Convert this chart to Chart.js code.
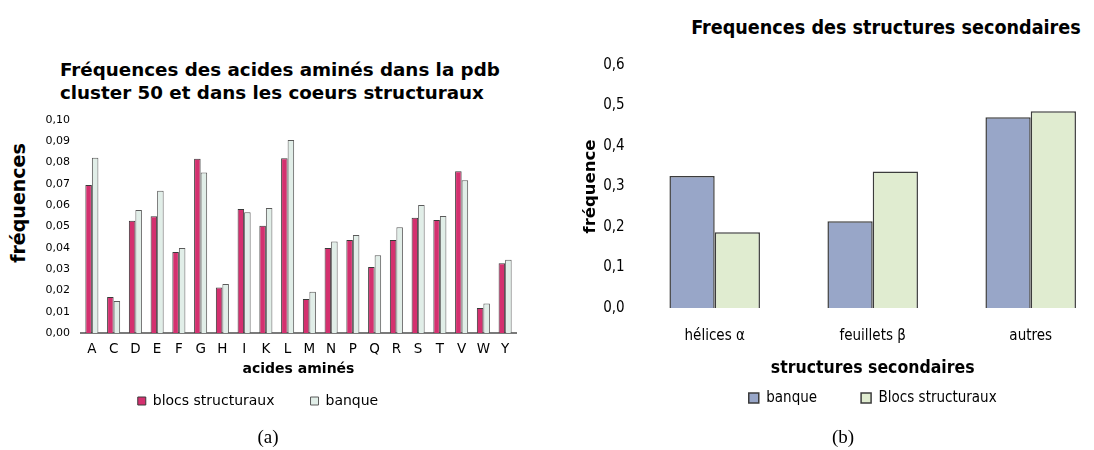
<!DOCTYPE html>
<html>
<head>
<meta charset="utf-8">
<script src="https://cdn.jsdelivr.net/npm/chart.js@4/dist/chart.umd.min.js"></script>
<style>
  html, body { margin: 0; padding: 0; background: #fff; }
  body { width: 1094px; height: 450px; position: relative; overflow: hidden; font-family: "DejaVu Sans", sans-serif; }
  .box { position: absolute; }
  .titre { position: absolute; font-weight: bold; color: #000; white-space: nowrap; }
  .legende { position: absolute; font-family: "Liberation Serif", serif; font-size: 19px; color: #000; }
</style>
</head>
<body>
<div class="titre" style="left:60px; top:58px; font-size:18.3px; line-height:23px;">Fréquences des acides aminés dans la pdb<br>cluster 50 et dans les coeurs structuraux</div>
<div class="titre" style="left:18px; top:203px; font-size:19px; transform:translate(-50%,-50%) rotate(-90deg);">fréquences</div>
<div class="titre" style="left:886px; top:27px; font-size:19.6px; font-family:'DejaVu Sans Condensed'; transform:translate(-50%,-50%);">Frequences des structures secondaires</div>

<div class="box" style="left:0; top:0; width:540px; height:450px;"><canvas id="acides"></canvas></div>
<div class="box" style="left:550px; top:0; width:570px; height:450px;"><canvas id="structures"></canvas></div>

<div class="legende" style="left:268px; top:437px; transform:translate(-50%,-50%);">(a)</div>
<div class="legende" style="left:843px; top:437px; transform:translate(-50%,-50%);">(b)</div>

<script>
// fréquences des acides aminés
var acides = ['A','C','D','E','F','G','H','I','K','L','M','N','P','Q','R','S','T','V','W','Y'];
var freqBlocs  = [0.0695, 0.0169, 0.0527, 0.0548, 0.0380, 0.0818, 0.0214, 0.0582, 0.0504, 0.0820,
                  0.0160, 0.0399, 0.0437, 0.0310, 0.0437, 0.0541, 0.0531, 0.0759, 0.0117, 0.0327];
var freqBanque = [0.0823, 0.0150, 0.0577, 0.0668, 0.0399, 0.0754, 0.0230, 0.0567, 0.0587, 0.0906,
                  0.0194, 0.0430, 0.0460, 0.0365, 0.0496, 0.0601, 0.0549, 0.0717, 0.0138, 0.0344];

// fréquences des structures secondaires
var structures = ['hélices α', 'feuillets β', 'autres'];
var structBanque = [0.326, 0.214, 0.471];
var structBlocs  = [0.187, 0.337, 0.486];

function virgule(n){
    return function(v){ return Number(v).toFixed(n).replace('.', ','); };
}

// the legend needs a wide padding between its items, so the x scale box is
// kept just tall enough for the tick labels and its title is pushed below it
var ctxA = document.getElementById('acides').getContext('2d');
new Chart(ctxA, {
    type: 'bar',
    data: {
        labels: acides,
        datasets: [{
            label: 'blocs structuraux',
            data: freqBlocs,
            backgroundColor: '#d4306f',
            borderColor: '#3a3a3a',
            borderWidth: 1
        }, {
            label: 'banque',
            data: freqBanque,
            backgroundColor: '#e1eee8',
            borderColor: '#5a5a5a',
            borderWidth: 1
        }]
    },
    options: {
        responsive: true,
        maintainAspectRatio: false,
        animation: false,
        layout: { padding: { left: 0, right: 24, top: 120, bottom: 32 } },
        datasets: { bar: { categoryPercentage: 0.6, barPercentage: 1 } },
        plugins: {
            legend: {
                position: 'bottom',
                labels: {
                    boxWidth: 8, boxHeight: 8, padding: 36,
                    color: '#000',
                    font: { family: 'DejaVu Sans', size: 14 }
                }
            },
            tooltip: { enabled: false }
        },
        scales: {
            x: {
                grid: { display: false, drawTicks: false },
                border: { display: true, color: '#7a7a7a', width: 2 },
                ticks: { color: '#000', padding: 8, font: { family: 'DejaVu Sans', size: 13.5 } },
                title: {
                    display: true, text: 'acides aminés', color: '#000',
                    padding: { top: 0, bottom: -19.4 },
                    font: { family: 'DejaVu Sans', size: 14, weight: 'bold' }
                },
                afterFit: function(s){ s.height = 25; }
            },
            y: {
                min: 0, max: 0.1,
                grid: { display: false, drawTicks: false },
                border: { display: false },
                ticks: {
                    stepSize: 0.01, padding: 11, color: '#000',
                    font: { family: 'DejaVu Sans', size: 11 },
                    callback: virgule(2)
                },
                afterFit: function(s){ s.width = 81; }
            }
        }
    }
});

var ctxS = document.getElementById('structures').getContext('2d');
new Chart(ctxS, {
    type: 'bar',
    data: {
        labels: structures,
        datasets: [{
            label: 'banque',
            data: structBanque,
            backgroundColor: '#98a6c8',
            borderColor: '#3c3c3c',
            borderWidth: 1.5
        }, {
            label: 'Blocs structuraux',
            data: structBlocs,
            backgroundColor: '#e0ecd0',
            borderColor: '#3c3c3c',
            borderWidth: 1.5
        }]
    },
    options: {
        responsive: true,
        maintainAspectRatio: false,
        animation: false,
        layout: { padding: { left: 0, right: 10.3, top: 65, bottom: 34.5 } },
        datasets: { bar: { categoryPercentage: 0.573, barPercentage: 1 } },
        plugins: {
            legend: {
                position: 'bottom',
                fullSize: false,
                labels: {
                    boxWidth: 10, boxHeight: 10, padding: 44,
                    color: '#000',
                    font: { family: 'DejaVu Sans Condensed', size: 15 }
                }
            },
            tooltip: { enabled: false }
        },
        scales: {
            x: {
                grid: { display: false, drawTicks: false },
                border: { display: false },
                ticks: { color: '#000', padding: 19, font: { family: 'DejaVu Sans Condensed', size: 15 } },
                title: {
                    display: true, text: 'structures secondaires', color: '#000',
                    padding: { top: 0, bottom: -32 },
                    font: { family: 'DejaVu Sans Condensed', size: 17.5, weight: 'bold' }
                },
                afterFit: function(s){ s.height = 38.5; }
            },
            y: {
                min: 0, max: 0.6,
                grid: { display: false, drawTicks: false },
                border: { display: false },
                ticks: {
                    stepSize: 0.1, padding: 11, color: '#000',
                    font: { family: 'DejaVu Sans Condensed', size: 15 },
                    callback: virgule(1)
                },
                title: {
                    display: true, text: 'fréquence', color: '#000',
                    padding: { top: 31, bottom: 0 },
                    font: { family: 'DejaVu Sans', size: 16.5, weight: 'bold' }
                },
                afterFit: function(s){ s.width = 85.7; }
            }
        }
    }
});
</script>
</body>
</html>
